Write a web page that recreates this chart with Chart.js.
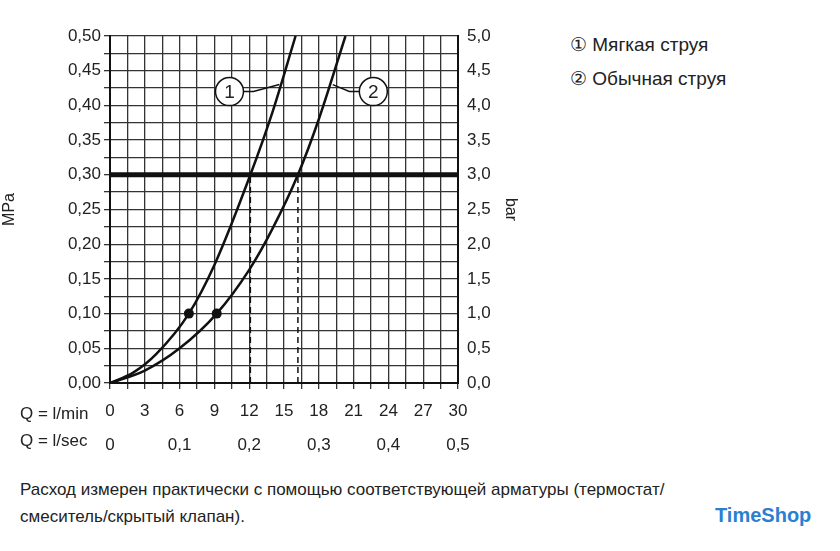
<!DOCTYPE html>
<html><head><meta charset="utf-8">
<script src="https://cdn.jsdelivr.net/npm/chart.js@4/dist/chart.umd.min.js"></script>
<style>
body{margin:0;background:#fff;font-family:"Liberation Sans",Arial,sans-serif;color:#222}
#wrap{position:absolute;left:0;top:0;width:520px;height:455px}
.leg{position:absolute;left:570px;font-size:19px}
#foot{position:absolute;left:20px;top:476px;font-size:17px;line-height:27px}
#ts{position:absolute;left:715px;top:504px;font-size:20px;color:#2a7fd0;font-weight:bold}
</style></head><body>
<div id="wrap"><canvas id="c"></canvas></div>
<div class="leg" style="top:33px">① Мягкая струя</div>
<div class="leg" style="top:67px">② Обычная струя</div>
<div id="foot">Расход измерен практически с помощью соответствующей арматуры (термостат/<br>смеситель/скрытый клапан).</div>
<div id="ts">TimeShop</div>
<script>
const soft = [[0,0],[2,0.015],[4,0.042],[6.8,0.10],[9,0.17],[12.1,0.30],[14,0.39],[16,0.50]];
const normal = [[0,0],[3,0.018],[6,0.05],[9.2,0.10],[12,0.163],[14,0.222],[16.2,0.30],[18,0.38],[20.3,0.50]];
const dotQ = [6.8, 9.2];
const bracket = [12.1, 16.2];

const fnt = {family:"Liberation Sans", size:17};
const comma = (v,d) => v.toFixed(d).replace('.',',');
const near = (v,s) => Math.abs(v/s - Math.round(v/s)) < 1e-6;
const pts = a => a.map(p => ({x:p[0], y:p[1]}));
const radii = (a,q) => a.map(p => p[0]===q ? 5 : 0);

const extras = {
  id:'extras',
  afterDatasetsDraw(ch){
    const c = ch.ctx, x = ch.scales.x, y = ch.scales.y;
    c.save();
    c.strokeStyle = '#111';
    c.lineWidth = 1.5;
    c.setLineDash([6,4]);
    bracket.forEach(q => {
      c.beginPath(); c.moveTo(x.getPixelForValue(q), y.getPixelForValue(0));
      c.lineTo(x.getPixelForValue(q), y.getPixelForValue(0.3)); c.stroke();
    });
    c.setLineDash([]);
    c.lineWidth = 5;
    c.beginPath(); c.moveTo(x.left, y.getPixelForValue(0.3)); c.lineTo(x.right, y.getPixelForValue(0.3)); c.stroke();
    const lab = [[10.3,0.42,'1',1,[14.6,0.43]],[22.7,0.42,'2',-1,[19.2,0.43]]];
    c.lineWidth = 1.5;
    lab.forEach(l => {
      const cx = x.getPixelForValue(l[0]), cy = y.getPixelForValue(l[1]);
      c.fillStyle = '#fff';
      c.beginPath(); c.arc(cx, cy, 14, 0, Math.PI*2); c.fill(); c.stroke();
      c.fillStyle = '#222'; c.font = '19px Liberation Sans'; c.textAlign='center'; c.textBaseline='middle';
      c.fillText(l[2], cx, cy+1);
      c.beginPath(); c.moveTo(cx + l[3]*14, cy); c.lineTo(cx + l[3]*24, cy);
      c.lineTo(x.getPixelForValue(l[4][0]), y.getPixelForValue(l[4][1])); c.stroke();
    });
    c.font = '17px Liberation Sans'; c.textAlign='left'; c.textBaseline='middle'; c.fillStyle='#222';
    c.fillText('Q = l/min', 20, 414);
    c.fillText('Q = l/sec', 20, 441);
    c.restore();
  }
};

new Chart(document.getElementById('c'), {
  type:'line',
  data:{datasets:[
    {data:pts(soft), borderColor:'#111', borderWidth:2.5, cubicInterpolationMode:'monotone', pointRadius:radii(soft,dotQ[0]), pointBackgroundColor:'#111', pointBorderWidth:0},
    {data:pts(normal), borderColor:'#111', borderWidth:2.5, cubicInterpolationMode:'monotone', pointRadius:radii(normal,dotQ[1]), pointBackgroundColor:'#111', pointBorderWidth:0}
  ]},
  options:{
    responsive:true, maintainAspectRatio:false, animation:false,
    layout:{padding:{top:36}},
    plugins:{legend:{display:false}, tooltip:{enabled:false}},
    scales:{
      x:{type:'linear', min:0, max:30, position:'bottom',
        afterFit(s){s.height=44;},
        border:{color:'#111', width:2},
        grid:{color:'#333', lineWidth:1.3, tickLength:6},
        ticks:{stepSize:1.5, autoSkip:false, maxRotation:0, padding:12, color:'#222', font:fnt,
          callback:v => near(v,3) ? String(v) : ''}},
      x2:{type:'linear', min:0, max:30, position:'bottom',
        afterFit(s){s.height=28;},
        border:{display:false}, grid:{display:false},
        ticks:{stepSize:6, autoSkip:false, maxRotation:0, padding:0, color:'#222', font:fnt,
          callback:v => v===0 ? '0' : comma(v/60,1)}},
      y:{min:0, max:0.5, position:'left',
        afterFit(s){s.width=110;},
        border:{color:'#111', width:2},
        grid:{color:'#333', lineWidth:1.3, tickLength:6},
        title:{display:true, text:'MPa', color:'#222', font:{family:'Liberation Sans', size:16}, padding:{top:0,bottom:-30}},
        ticks:{stepSize:0.025, autoSkip:false, color:'#222', font:fnt,
          callback:v => near(v,0.05) ? comma(v,2) : ''}},
      y2:{min:0, max:5, position:'right',
        afterFit(s){s.width=62;},
        border:{color:'#111', width:2},
        grid:{display:false, tickLength:6},
        title:{display:true, text:'bar', color:'#222', font:{family:'Liberation Sans', size:16}, padding:0},
        ticks:{stepSize:0.5, color:'#222', font:fnt, callback:v => comma(v,1)}}
    }
  },
  plugins:[extras]
});
</script></body></html>
